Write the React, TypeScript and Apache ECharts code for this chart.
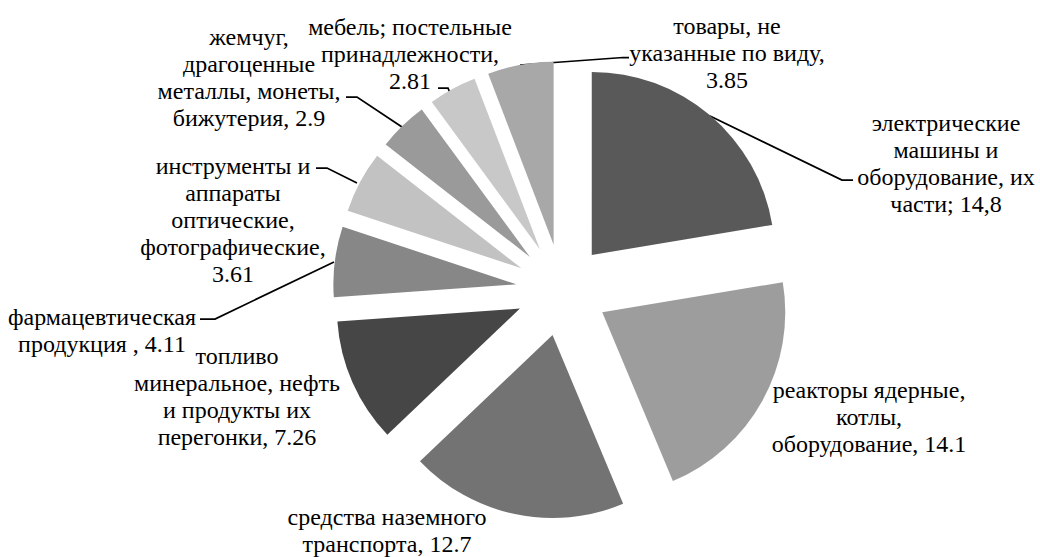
import React, { useEffect, useRef } from "react";
import * as echarts from "echarts";

const categories = [
  "электрические машины и оборудование, их части",
  "реакторы ядерные, котлы, оборудование",
  "средства наземного транспорта",
  "топливо минеральное, нефть и продукты их перегонки",
  "фармацевтическая продукция ",
  "инструменты и аппараты оптические, фотографические",
  "жемчуг, драгоценные металлы, монеты, бижутерия",
  "мебель; постельные принадлежности",
  "товары, не указанные по виду",
];
const values = [14.8, 14.1, 12.7, 7.26, 4.11, 3.61, 2.9, 2.81, 3.85];
const labelTexts = [
  "электрические\nмашины и\nоборудование, их\nчасти; ",
  "реакторы ядерные,\nкотлы,\nоборудование, ",
  "средства наземного\nтранспорта, ",
  "топливо\nминеральное, нефть\nи продукты их\nперегонки, ",
  "фармацевтическая\nпродукция , ",
  "инструменты и\nаппараты\nоптические,\nфотографические,\n",
  "жемчуг,\nдрагоценные\nметаллы, монеты,\nбижутерия, ",
  "мебель; постельные\nпринадлежности,\n",
  "товары, не\nуказанные по виду,\n",
];
const decimalSeparators = [",", ".", ".", ".", ".", ".", ".", ".", "."];
const colors = [
  "#595959",
  "#9d9d9d",
  "#737373",
  "#464646",
  "#878787",
  "#c2c2c2",
  "#9a9a9a",
  "#c8c8c8",
  "#a8a8a8",
];

// layout: label block centres and leader-line points (px)
const labelCenters: [number, number][] = [
  [946, 163],
  [869, 417],
  [387, 530],
  [237, 396],
  [102, 330],
  [233, 220],
  [249, 77],
  [410, 54],
  [727, 53],
];
const leaderPoints: ([number, number][] | null)[] = [
  [[710, 116], [842, 180], [853, 180]],
  null,
  null,
  null,
  [[334, 262], [215, 319], [200, 319]],
  [[357, 183], [327, 168], [316, 168]],
  [[402, 127], [357, 97], [346, 97]],
  [[450, 93], [448, 88], [438, 88]],
  [[520, 65], [623, 57.5], [629, 57.5]],
];

function fmt(v: number, sep: string) {
  return String(v).replace(".", sep);
}

export default function App() {
  const ref = useRef<HTMLDivElement>(null);
  useEffect(() => {
    if (!ref.current) return;
    const chart = echarts.init(ref.current, undefined, { renderer: "svg" });
    const data = categories.map((name, i) => ({
      name,
      value: values[i],
      selected: true,
      itemStyle: { color: colors[i] },
      select: { itemStyle: { color: colors[i] } },
    }));
    const graphics: any[] = [];
    categories.forEach((_, i) => {
      graphics.push({
        type: "text",
        x: labelCenters[i][0],
        y: labelCenters[i][1],
        silent: true,
        style: {
          text: labelTexts[i] + fmt(values[i], decimalSeparators[i]),
          fill: "#000000",
          fontFamily: "Liberation Serif",
          fontSize: 24,
          lineHeight: 27,
          align: "center",
          verticalAlign: "middle",
        },
      });
      const pts = leaderPoints[i];
      if (pts) {
        graphics.push({
          type: "polyline",
          silent: true,
          shape: { points: pts },
          style: { stroke: "#000000", lineWidth: 1.75, fill: null },
        });
      }
    });
    chart.setOption({
      animation: false,
      backgroundColor: "#ffffff",
      series: [
        {
          type: "pie",
          center: [562, 290],
          radius: [0, 183],
          startAngle: 90,
          clockwise: true,
          selectedMode: "multiple",
          selectedOffset: 46,
          silent: true,
          data,
          itemStyle: { borderWidth: 0 },
          label: { show: false },
          labelLine: { show: false },
        },
      ],
      graphic: graphics,
    });
    return () => chart.dispose();
  }, []);
  return (
    <div
      ref={ref}
      style={{ position: "absolute", left: 0, top: 0, width: 1040, height: 557 }}
    />
  );
}
